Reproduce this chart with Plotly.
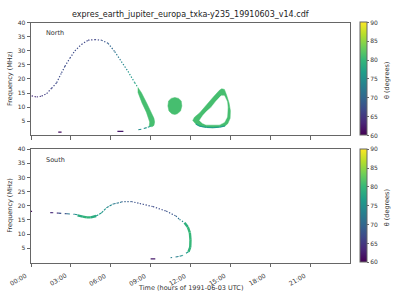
import plotly.graph_objects as go
from plotly.colors import sample_colorscale

# ---------------- data (hours, MHz, theta degrees) ----------------
title_text = "expres_earth_jupiter_europa_txka-y235_19910603_v14.cdf"
tick_hours = [0, 3, 6, 9, 12, 15, 18, 21]
tick_labels = ["00:00", "03:00", "06:00", "09:00", "12:00", "15:00", "18:00", "21:00"]
freq_ticks = [5, 10, 15, 20, 25, 30, 35, 40]
cbar_ticks = [60, 65, 70, 75, 80, 85, 90]

# North hemisphere
north_arc_t = [0.05, 0.43, 0.8, 1.18, 1.55, 1.93, 2.3, 2.55, 2.93, 3.3, 3.8, 4.3, 4.8, 5.3, 5.8, 6.3, 6.8, 7.3, 7.8, 8.05]
north_arc_f = [14.0, 13.6, 13.9, 14.8, 16.7, 18.7, 22.2, 24.5, 27.4, 30.0, 32.3, 33.8, 34.0, 33.8, 32.7, 29.7, 26.2, 22.7, 18.7, 16.9]
north_arc_theta = [63, 64, 65, 66, 66, 67, 67, 67, 67, 67, 67, 66, 66, 67, 69, 71, 73, 75, 77, 79]

north_band_t = [8.05, 8.3, 8.7, 9.05, 9.25, 9.3, 9.25, 9.1, 8.9, 8.93, 8.85, 8.68, 8.35, 8.05]
north_band_f = [16.9, 15.2, 11.5, 8.2, 6.0, 4.7, 3.5, 3.0, 3.3, 4.7, 6.0, 8.2, 11.5, 15.2]
north_band_theta = 81

north_tail_t = [9.0, 8.7, 8.3, 7.88]
north_tail_f = [3.2, 2.7, 2.1, 1.86]
north_tail_theta = [78, 76, 75, 74]

north_dark_t0 = [2.05, 6.5]
north_dark_t1 = [2.3, 6.95]
north_dark_f = [1.1, 1.4]
north_dark_theta = [61, 62]

north_blob_t = [10.82, 11.1, 11.3, 11.35, 11.25, 11.0, 10.82, 10.6, 10.38, 10.3, 10.35, 10.55]
north_blob_f = [13.4, 13.1, 12.2, 10.4, 8.6, 7.6, 7.4, 7.6, 8.6, 10.4, 12.2, 13.1]
north_blob_theta = 81

north_loop_outer_t = [12.17, 12.4, 12.7, 13.2, 13.7, 14.2, 14.6, 14.8, 14.98, 15.0, 14.9, 14.7, 14.55, 14.35, 14.18, 13.7, 13.18, 12.7, 12.3]
north_loop_outer_f = [5.25, 4.0, 3.2, 2.8, 2.7, 2.9, 3.3, 4.1, 6.0, 8.75, 11.5, 14.5, 16.3, 16.5, 16.0, 13.5, 10.5, 8.0, 6.4]
north_loop_inner_t = [12.68, 12.9, 13.18, 13.7, 14.18, 14.55, 14.75, 14.8, 14.75, 14.55, 14.3, 13.9, 13.55, 13.2, 12.93]
north_loop_inner_f = [5.25, 4.3, 3.7, 3.6, 3.7, 4.6, 6.4, 9.9, 12.0, 14.0, 14.0, 12.0, 9.9, 8.4, 7.0]
north_loop_theta = 81
north_loop_bottom_t = [12.4, 12.7, 13.2, 13.7, 14.2, 14.6]
north_loop_bottom_f = [4.0, 3.2, 2.8, 2.7, 2.9, 3.3]
north_loop_bottom_theta = 77

# South hemisphere
south_left_t = [1.45, 2.05, 2.7, 3.27, 3.5]
south_left_f = [17.6, 17.4, 17.2, 17.0, 16.8]
south_left_theta = [62, 65, 70, 74, 76]

south_bump_t = [3.5, 3.9, 4.2, 4.5, 4.9]
south_bump_f = [16.6, 16.2, 15.9, 15.9, 16.4]
south_bump_theta = [78, 79, 80, 79, 78]

south_rise_t = [4.9, 5.3, 5.68, 6.18, 6.8]
south_rise_f = [16.4, 17.5, 19.3, 20.6, 21.3]
south_rise_theta = [77, 76, 75, 73, 71]

south_arc_t = [6.8, 7.55, 8.18, 9.18, 10.18, 10.9, 11.17, 11.55]
south_arc_f = [21.4, 21.5, 20.8, 19.7, 18.1, 16.4, 15.2, 14.0]
south_arc_theta = [70, 68, 67, 67, 67, 69, 72, 76]

south_vert_t = [11.55, 11.8, 11.95, 12.0, 11.98, 11.85]
south_vert_f = [14.0, 12.5, 10.5, 8.0, 5.4, 3.8]
south_vert_theta = [78, 80, 80, 80, 80, 79]

south_tail_t = [11.85, 11.4, 11.1, 10.5]
south_tail_f = [3.8, 2.5, 2.1, 1.7]
south_tail_theta = [77, 76, 74, 72]

south_dark_t0 = [0.0, 9.0]
south_dark_t1 = [0.08, 9.35]
south_dark_f = [18.0, 1.3]
south_dark_theta = [61, 62]

# ---------------- figure ----------------
TMIN, TMAX = 60, 90
FONT = "DejaVu Sans"
DOT = "1.3px,1.7px"
DASH = "3px,3.5px"


def col(th):
    return sample_colorscale("Viridis", [(th - TMIN) / (TMAX - TMIN)])[0]


fig = go.Figure()


def axes(row):
    return ("x", "y") if row == 1 else ("x2", "y2")


def curve(t, f, th, row, width, dash="solid"):
    xa, ya = axes(row)
    for i in range(len(t) - 1):
        fig.add_trace(go.Scatter(
            x=[t[i], t[i + 1]], y=[f[i], f[i + 1]], mode="lines",
            line=dict(color=col((th[i] + th[i + 1]) / 2), width=width, dash=dash),
            xaxis=xa, yaxis=ya, showlegend=False, hoverinfo="skip"))


def dashes(t0, t1, f, th, row, width):
    xa, ya = axes(row)
    for a, b, y, c in zip(t0, t1, f, th):
        fig.add_trace(go.Scatter(
            x=[a, b], y=[y, y], mode="lines", line=dict(color=col(c), width=width),
            xaxis=xa, yaxis=ya, showlegend=False, hoverinfo="skip"))


def blob(t, f, th, row, fillcolor=None):
    xa, ya = axes(row)
    c = fillcolor if fillcolor else col(th)
    fig.add_trace(go.Scatter(
        x=t + [t[0]], y=f + [f[0]], mode="lines", fill="toself", fillcolor=c,
        line=dict(color=c, width=0.5), xaxis=xa, yaxis=ya,
        showlegend=False, hoverinfo="skip"))


# North
curve(north_arc_t, north_arc_f, north_arc_theta, 1, 1.2, DOT)
blob(north_band_t, north_band_f, north_band_theta, 1)
curve(north_tail_t, north_tail_f, north_tail_theta, 1, 1.1, DASH)
dashes(north_dark_t0, north_dark_t1, north_dark_f, north_dark_theta, 1, 1.3)
blob(north_blob_t, north_blob_f, north_blob_theta, 1)
blob(north_loop_outer_t, north_loop_outer_f, north_loop_theta, 1)
curve(north_loop_bottom_t, north_loop_bottom_f, [north_loop_bottom_theta] * len(north_loop_bottom_t), 1, 1.3)
blob(north_loop_inner_t, north_loop_inner_f, None, 1, fillcolor="white")

# South
curve(south_left_t, south_left_f, south_left_theta, 2, 1.1, DASH)
curve(south_bump_t, south_bump_f, south_bump_theta, 2, 2.4)
curve(south_rise_t, south_rise_f, south_rise_theta, 2, 1.1, "2.5px,1px")
curve(south_arc_t, south_arc_f, south_arc_theta, 2, 1.2, DOT)
curve(south_vert_t, south_vert_f, south_vert_theta, 2, 2.4)
curve(south_tail_t, south_tail_f, south_tail_theta, 2, 1.1, DASH)
dashes(south_dark_t0, south_dark_t1, south_dark_f, south_dark_theta, 2, 1.3)

# colorbars (one per panel)
for row, ycen in [(1, 1 - 76 / 300), (2, 1 - 204.5 / 300)]:
    xa, ya = axes(row)
    fig.add_trace(go.Scatter(
        x=[None], y=[None], mode="markers", xaxis=xa, yaxis=ya,
        showlegend=False, hoverinfo="skip",
        marker=dict(color=[TMIN], colorscale="Viridis", cmin=TMIN, cmax=TMAX,
                    showscale=True,
                    colorbar=dict(x=360.3 / 400, xanchor="left", y=ycen, yanchor="middle",
                                  len=115 / 300, lenmode="fraction", thickness=6.5,
                                  outlinewidth=1, outlinecolor="#666",
                                  tickvals=cbar_ticks, ticks="outside", ticklen=2,
                                  tickcolor="#666", tickfont=dict(family=FONT, size=6, color="#333"),
                                  xpad=0, ypad=0))))

axis_common = dict(showgrid=False, zeroline=False, showline=True, mirror=True,
                   linecolor="#666", linewidth=1, ticks="outside", ticklen=3.5,
                   tickcolor="#666", tickfont=dict(family=FONT, size=6, color="#333"))

xdom = [31 / 400, 350 / 400]
fig.update_layout(
    width=400, height=300, margin=dict(l=0, r=0, t=0, b=0),
    paper_bgcolor="white", plot_bgcolor="white",
    xaxis=dict(domain=xdom, range=[0, 24], tickvals=tick_hours,
               showticklabels=False, anchor="y", **axis_common),
    yaxis=dict(domain=[1 - 133 / 300, 1 - 19 / 300], range=[0, 40], tickvals=freq_ticks,
               anchor="x", **axis_common),
    xaxis2=dict(domain=xdom, range=[0, 24], tickvals=tick_hours,
                showticklabels=False, anchor="y2", **axis_common),
    yaxis2=dict(domain=[1 - 262 / 300, 1 - 147 / 300], range=[0, 40], tickvals=freq_ticks,
                anchor="x2", **axis_common),
)

# rotated time tick labels
for h, lab in zip(tick_hours, tick_labels):
    fig.add_annotation(xref="x2", yref="paper", x=h, y=1 - 268.5 / 300, text=lab,
                       textangle=-30, xanchor="right", yanchor="top", showarrow=False,
                       xshift=-1, font=dict(family=FONT, size=6.3, color="#333"))

ann = [
    dict(text=title_text, x=190.5 / 400, y=1 - 11 / 300, font=dict(size=8, color="#222")),
    dict(text="Frequency (MHz)", x=10 / 400, y=1 - 76 / 300, textangle=-90, font=dict(size=6.5, color="#333")),
    dict(text="Frequency (MHz)", x=10 / 400, y=1 - 204.5 / 300, textangle=-90, font=dict(size=6.5, color="#333")),
    dict(text="θ (degrees)", x=387 / 400, y=1 - 78 / 300, textangle=-90, font=dict(size=6.5, color="#333")),
    dict(text="θ (degrees)", x=387 / 400, y=1 - 207 / 300, textangle=-90, font=dict(size=6.5, color="#333")),
    dict(text="Time (hours of 1991-06-03 UTC)", x=190.5 / 400, y=1 - 287.5 / 300, font=dict(size=6.5, color="#333")),
    dict(text="North", x=44 / 400, y=1 - 29 / 300, xanchor="left", font=dict(size=6.5, color="#333")),
    dict(text="South", x=44 / 400, y=1 - 158 / 300, xanchor="left", font=dict(size=6.5, color="#333")),
]
for a in ann:
    a.setdefault("xanchor", "center")
    a["font"]["family"] = FONT
    fig.add_annotation(xref="paper", yref="paper", showarrow=False, yanchor="middle", **a)

fig.write_html("out.html")
